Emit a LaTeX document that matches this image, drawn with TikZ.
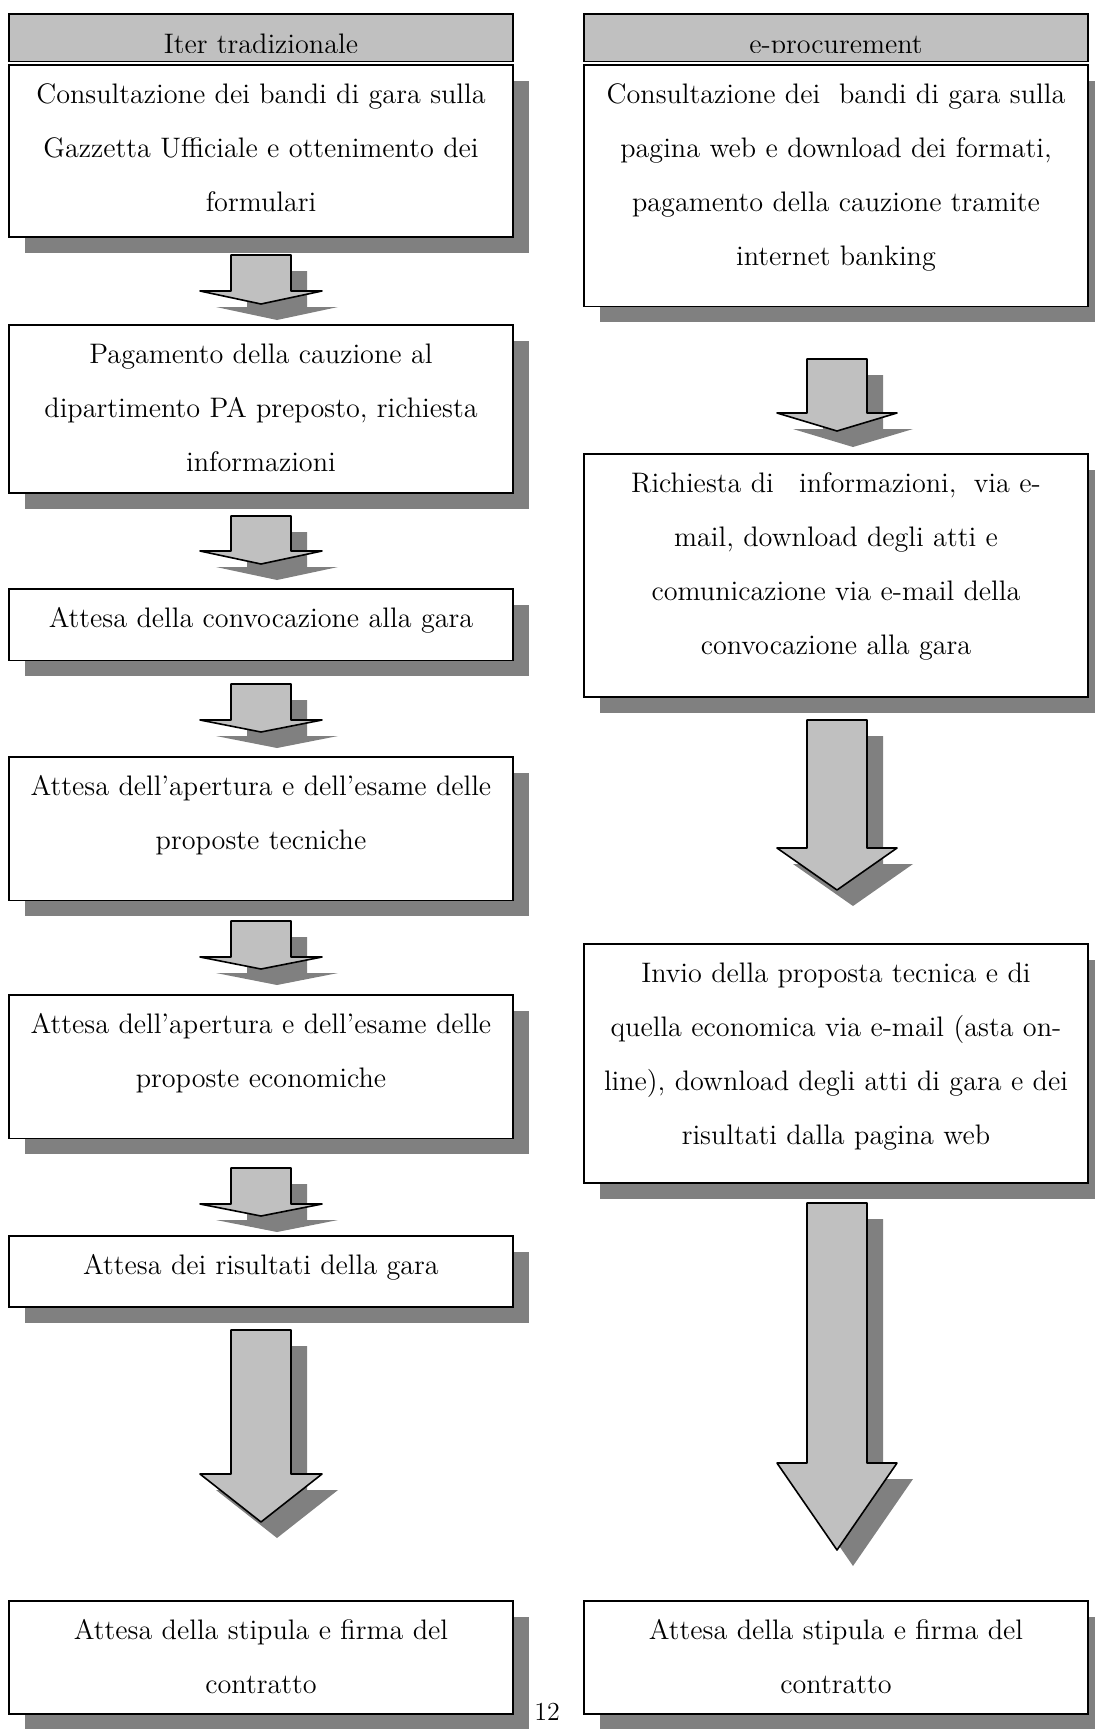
\documentclass[tikz,border=0pt]{standalone}
\usetikzlibrary{shadows}

\definecolor{lightgrey}{HTML}{C0C0C0}
\definecolor{darkgrey}{HTML}{808080}
\newcommand{\bodyfont}{\fontsize{14.1}{27}\selectfont}

% block arrow: x, top, wing, tip, half shaft, half head
\newcommand{\blkarrow}[6]{%
  \fill[darkgrey, shift={(16,16)}] (#1-#5,#2) -- (#1+#5,#2) -- (#1+#5,#3) -- (#1+#6,#3) -- (#1,#4) -- (#1-#6,#3) -- (#1-#5,#3) -- cycle;
  \draw[fill=lightgrey, line width=0.8pt, line join=round] (#1-#5,#2) -- (#1+#5,#2) -- (#1+#5,#3) -- (#1+#6,#3) -- (#1,#4) -- (#1-#6,#3) -- (#1-#5,#3) -- cycle;
}

\begin{document}
\begin{tikzpicture}[x=0.5pt, y=-0.5pt,
    box/.style={draw, line width=0.8pt, fill=white, anchor=north, text width=250pt, inner xsep=1pt, inner ysep=0pt,
      align=center, text height=19.25pt, font=\bodyfont,
      drop shadow={shadow xshift=8pt, shadow yshift=-8pt, fill=darkgrey, opacity=1}},
    headbox/.style={draw, line width=0.8pt, fill=lightgrey, anchor=north, minimum width=252pt, minimum height=23.75pt, inner sep=0pt}]
    \useasboundingbox (0,0) rectangle (1095,1729);

    % headers
    \node[headbox] (headL) at (261,13) {};
    \node[headbox] (headR) at (836,13) {};
    \begin{scope}
        \clip (9,13) rectangle (1088,52);
        \node[anchor=base, font=\bodyfont] (titleL) at (261,54) {Iter tradizionale};
        \node[anchor=base, font=\bodyfont] (titleR) at (836,54) {e-procurement};
    \end{scope}

    % traditional column
    \node[box, text depth=66.75pt] (L1) at (261,64) {Consultazione dei bandi di gara sulla\\Gazzetta Ufficiale e ottenimento dei\\formulari};
    \node[box, text depth=64.75pt] (L2) at (261,324) {Pagamento della cauzione al\\dipartimento PA preposto, richiesta\\informazioni};
    \node[box, text depth=16.5pt] (L3) at (261,588) {Attesa della convocazione alla gara};
    \node[box, text depth=52.5pt] (L4) at (261,756) {Attesa dell’apertura e dell’esame delle\\proposte tecniche};
    \node[box, text depth=52.5pt] (L5) at (261,994) {Attesa dell’apertura e dell’esame delle\\proposte economiche};
    \node[box, text depth=16.25pt] (L6) at (261,1235) {Attesa dei risultati della gara};
    \node[box, text depth=37.25pt] (L7) at (261,1600) {Attesa della stipula e firma del\\contratto};

    % e-procurement column
    \node[box, text depth=101.5pt] (R1) at (836,64) {Consultazione dei\ \ bandi di gara sulla\\pagina web e download dei formati,\\pagamento della cauzione tramite\\internet banking};
    \node[box, text depth=102.25pt] (R2) at (836,453) {Richiesta di\hspace{8pt} informazioni,\hspace{4pt} via e-\\mail, download degli atti e\\comunicazione via e-mail della\\convocazione alla gara};
    \node[box, text depth=100.25pt] (R3) at (836,943) {Invio della proposta tecnica e di\\quella economica via e-mail (asta on-\\line), download degli atti di gara e dei\\risultati dalla pagina web};
    \node[box, text depth=37.25pt] (R4) at (836,1600) {Attesa della stipula e firma del\\contratto};

    % arrows
    \blkarrow{261}{255}{291}{304}{30}{61}
    \blkarrow{261}{516}{551}{564}{30}{61}
    \blkarrow{261}{684}{720}{732}{30}{61}
    \blkarrow{261}{921}{957}{969}{30}{61}
    \blkarrow{261}{1168}{1204}{1216}{30}{61}
    \blkarrow{261}{1330}{1474}{1522}{30}{61}
    \blkarrow{837}{359}{413}{431}{30}{60}
    \blkarrow{837}{720}{848}{890}{30}{60}
    \blkarrow{837}{1203}{1463}{1550}{30}{60}

    \node[anchor=base, font=\fontsize{13}{15}\selectfont] (pagenum) at (547,1720) {12};
\end{tikzpicture}
\end{document}
